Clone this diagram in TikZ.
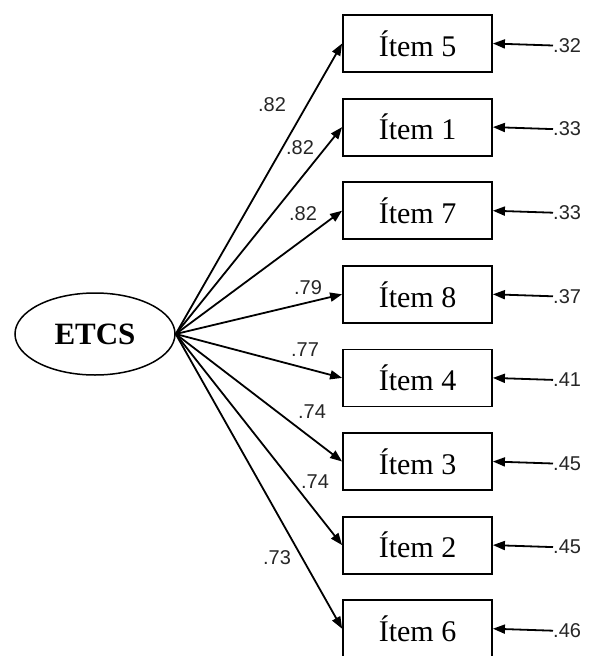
\documentclass[tikz,border=0pt]{standalone}
\usepackage{fontspec}
\setmainfont{Liberation Serif}
\newfontfamily\labfont{Liberation Sans}
\usetikzlibrary{arrows.meta,shapes.geometric}
\begin{document}
\begin{tikzpicture}[x=1pt,y=-1pt,
  itembox/.style={draw,line width=1.8pt,minimum width=149pt,minimum height=57pt,inner sep=0pt,
    font=\fontsize{30}{30}\selectfont},
  load/.style={font=\labfont\fontsize{20}{20}\selectfont,inner sep=0pt,text=black!85},
  resid/.style={font=\labfont\fontsize{20}{20}\selectfont,inner sep=0pt,anchor=west,text=black!85},
  conn/.style={line width=1.8pt,-{Triangle[length=12pt,width=9pt]}},
]
\useasboundingbox (0,0) rectangle (590,656);
\node[ellipse,draw,line width=1.5pt,minimum width=160pt,minimum height=82pt,inner sep=0pt,
  font=\fontsize{31}{31}\selectfont\bfseries] (etcs) at (95,334) {ETCS};
\foreach \n/\lbl/\y/\r in {i5/5/43.5/.32, i1/1/127.1/.33, i7/7/210.7/.33, i8/8/294.3/.37,
    i4/4/377.9/.41, i3/3/461.5/.45, i2/2/545.1/.45, i6/6/628.7/.46}{
  \node[itembox] (\n) at (417.5,\y) {Ítem \lbl};
  \node[resid] (r\n) at (553,\y+2) {\r};
  \draw[conn] (r\n.west) -- (\n.east);
  \draw[conn] (etcs.east) -- (\n.west);
}
\node[load] (l5) at (272,105) {.82};
\node[load] (l1) at (300,148) {.82};
\node[load] (l7) at (303,214) {.82};
\node[load] (l8) at (308,288) {.79};
\node[load] (l4) at (305,350) {.77};
\node[load] (l3) at (312,412) {.74};
\node[load] (l2) at (315,482) {.74};
\node[load] (l6) at (277,558) {.73};
\end{tikzpicture}
\end{document}
